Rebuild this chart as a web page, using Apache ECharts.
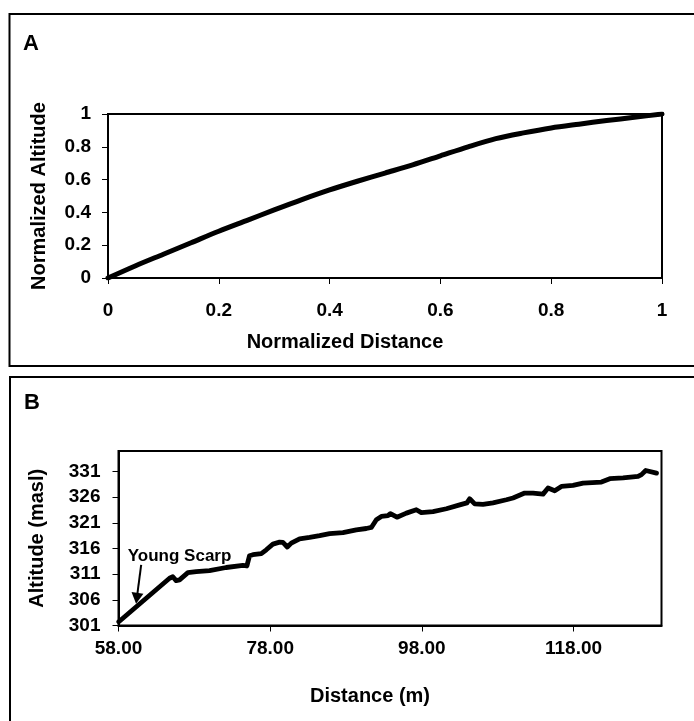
<!DOCTYPE html>
<html>
<head>
<meta charset="utf-8">
<title>Longitudinal profiles</title>
<script src="https://cdn.jsdelivr.net/npm/echarts@6/dist/echarts.min.js"></script>
<style>
  html, body { margin: 0; padding: 0; background: #fff; }
  #chart { width: 694px; height: 721px; }
</style>
</head>
<body>
<div id="chart"></div>
<script>
// Panel A: normalized profile
const normDistance = [0, 0.05, 0.1, 0.15, 0.2, 0.25, 0.3, 0.35, 0.4, 0.45, 0.5,
  0.55, 0.6, 0.65, 0.7, 0.75, 0.8, 0.85, 0.9, 0.95, 1];
const normAltitude = [0, 0.075, 0.145, 0.215, 0.285, 0.35, 0.415, 0.478, 0.537, 0.59, 0.64,
  0.69, 0.745, 0.8, 0.85, 0.885, 0.915, 0.938, 0.96, 0.98, 1];
const normTicks = [0, 0.2, 0.4, 0.6, 0.8, 1];

// Panel B: measured profile (distance in m, altitude in m a.s.l.)
const distanceM = [58.04, 64.73, 65.16, 65.6, 66.05, 67.15, 68.25, 70.0, 72.2, 74.4,
  74.93, 75.28, 75.72, 76.83, 77.49, 78.36, 79.24, 79.68, 80.26, 80.78,
  81.88, 83.2, 84.52, 85.84, 87.6, 89.36, 90.68, 91.34, 92.0, 92.66,
  93.53, 93.85, 94.72, 95.96, 97.27, 97.93, 99.47, 101.23, 102.99, 103.95,
  104.3, 104.97, 106.06, 107.38, 109.15, 110.02, 111.56, 112.66, 113.98, 114.64,
  115.52, 116.4, 117.93, 119.25, 121.68, 122.78, 124.53, 126.51, 126.96, 127.52,
  128.94];
const altitudeM = [301.74, 310.2, 310.5, 309.75, 309.9, 311.3, 311.5, 311.7, 312.3, 312.7,
  312.6, 314.6, 314.8, 315.0, 315.75, 316.85, 317.25, 317.2, 316.3, 317.05,
  317.9, 318.15, 318.5, 318.9, 319.1, 319.65, 319.9, 320.1, 321.6, 322.25,
  322.4, 322.8, 322.1, 322.9, 323.55, 323.0, 323.2, 323.75, 324.5, 324.9,
  325.7, 324.7, 324.6, 324.9, 325.5, 325.85, 326.8, 326.8, 326.6, 327.8,
  327.25, 328.1, 328.3, 328.75, 328.95, 329.6, 329.75, 330.05, 330.4, 331.2,
  330.7];
const distanceTicks = [58, 78, 98, 118];
const altitudeTicks = [301, 306, 311, 316, 321, 326, 331];

// "Young Scarp" annotation: label anchor and arrow (tail, head) in data units
const scarpLabel = [66.05, 314.4];
const scarpArrow = [[60.99, 312.8], [60.41, 306.3]];

const FONT = "'Liberation Sans', Arial, Helvetica, sans-serif";
const tickText = { color: '#000', fontFamily: FONT, fontWeight: 'bold', fontSize: 19 };
const nameText = { color: '#000', fontFamily: FONT, fontWeight: 'bold', fontSize: 20 };

function zip(xs, ys) { return xs.map((x, i) => [x, ys[i]]); }

const axisCommon = {
  type: 'value',
  splitLine: { show: false },
  axisLine: { show: true, onZero: false, lineStyle: { color: '#000', width: 2 } },
  axisTick: { show: true, length: 6, lineStyle: { color: '#000', width: 1 } }
};

const chart = echarts.init(document.getElementById('chart'), null, { renderer: 'canvas' });

chart.setOption({
  animation: false,
  backgroundColor: '#fff',
  graphic: [
    { type: 'rect', shape: { x: 9.5, y: 14, width: 720, height: 352 },
      style: { fill: 'none', stroke: '#000', lineWidth: 2 }, silent: true },
    { type: 'rect', shape: { x: 10, y: 377, width: 720, height: 400 },
      style: { fill: 'none', stroke: '#000', lineWidth: 2 }, silent: true },
    { type: 'text', left: 23, top: 33,
      style: { text: 'A', fontFamily: FONT, fontWeight: 'bold', fontSize: 22, fill: '#000' } },
    { type: 'text', left: 24, top: 392,
      style: { text: 'B', fontFamily: FONT, fontWeight: 'bold', fontSize: 22, fill: '#000' } }
  ],
  grid: [
    { left: 108, top: 114, width: 554, height: 164,
      show: true, borderColor: '#000', borderWidth: 2, backgroundColor: 'transparent' },
    { left: 118.5, top: 451, width: 543, height: 174.5,
      show: true, borderColor: '#000', borderWidth: 2, backgroundColor: 'transparent' }
  ],
  xAxis: [
    Object.assign({}, axisCommon, {
      gridIndex: 0, min: 0, max: 1,
      axisTick: Object.assign({}, axisCommon.axisTick, { customValues: normTicks }),
      axisLabel: Object.assign({}, tickText, { margin: 23, customValues: normTicks }),
      name: 'Normalized Distance', nameLocation: 'middle', nameGap: 54,
      nameTextStyle: Object.assign({}, nameText, { padding: [0, 80, 0, 0] })
    }),
    Object.assign({}, axisCommon, {
      gridIndex: 1, min: 58, max: 129.6,
      axisTick: Object.assign({}, axisCommon.axisTick, { customValues: distanceTicks }),
      axisLabel: Object.assign({}, tickText, { margin: 14, customValues: distanceTicks,
        formatter: v => v.toFixed(2) }),
      name: 'Distance (m)', nameLocation: 'middle', nameGap: 61,
      nameTextStyle: Object.assign({}, nameText, { padding: [0, 40, 0, 0] })
    })
  ],
  yAxis: [
    Object.assign({}, axisCommon, {
      gridIndex: 0, min: 0, max: 1,
      axisTick: Object.assign({}, axisCommon.axisTick, { customValues: normTicks }),
      axisLabel: Object.assign({}, tickText, { margin: 17, customValues: normTicks }),
      name: 'Normalized Altitude', nameLocation: 'middle', nameGap: 59,
      nameTextStyle: nameText
    }),
    Object.assign({}, axisCommon, {
      gridIndex: 1, min: 301, max: 335,
      axisTick: Object.assign({}, axisCommon.axisTick, { customValues: altitudeTicks }),
      axisLabel: Object.assign({}, tickText, { margin: 18, customValues: altitudeTicks }),
      name: 'Altitude (masl)', nameLocation: 'middle', nameGap: 71,
      nameTextStyle: nameText
    })
  ],
  series: [
    {
      type: 'line', xAxisIndex: 0, yAxisIndex: 0,
      data: zip(normDistance, normAltitude),
      showSymbol: false, smooth: 0.3,
      lineStyle: { color: '#000', width: 5, join: 'round', cap: 'round' }
    },
    {
      type: 'line', xAxisIndex: 1, yAxisIndex: 1,
      data: zip(distanceM, altitudeM),
      showSymbol: false,
      lineStyle: { color: '#000', width: 4.8, join: 'round', cap: 'round' },
      markLine: {
        silent: true, symbol: ['none', 'triangle'], symbolSize: [12, 11],
        label: { show: false },
        lineStyle: { color: '#000', width: 2, type: 'solid' },
        emphasis: { disabled: true },
        data: [[{ coord: scarpArrow[0] }, { coord: scarpArrow[1] }]]
      },
      markPoint: {
        silent: true, symbol: 'circle', symbolSize: 0,
        label: { show: true, position: 'inside', formatter: 'Young Scarp',
          color: '#000', fontFamily: FONT, fontWeight: 'bold', fontSize: 17 },
        data: [{ coord: scarpLabel }]
      }
    }
  ]
});
</script>
</body>
</html>
